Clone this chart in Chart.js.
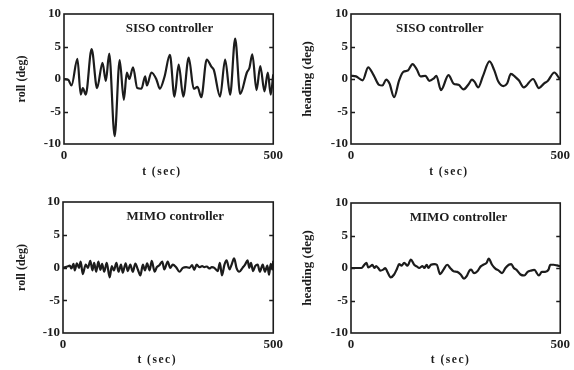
<!DOCTYPE html>
<html>
<head>
<meta charset="utf-8">
<script src="https://cdn.jsdelivr.net/npm/chart.js@4/dist/chart.umd.min.js"></script>
<style>
  html, body { margin: 0; padding: 0; background: #ffffff; }
  #wrap { position: relative; width: 574px; height: 370px; overflow: hidden; background: #ffffff; }
  .panel { position: absolute; width: 287px; height: 185px; }
  canvas { display: block; }
</style>
</head>
<body>
<div id="wrap">
  <div class="panel" style="left:0px;top:0px"><canvas id="rollSiso" width="287" height="185"></canvas></div>
  <div class="panel" style="left:287px;top:0px"><canvas id="headingSiso" width="287" height="185"></canvas></div>
  <div class="panel" style="left:0px;top:185px"><canvas id="rollMimo" width="287" height="185"></canvas></div>
  <div class="panel" style="left:287px;top:185px"><canvas id="headingMimo" width="287" height="185"></canvas></div>
</div>
<script>
// Roll and heading responses (deg) over a 500 s run, SISO vs MIMO controller.
const rollSisoT   = [0, 10, 18, 32, 40, 45, 52, 66, 79, 92, 100, 108, 121, 133, 143, 150, 156, 165, 175, 185, 194, 198, 209, 221, 229, 240, 253, 264, 274, 285, 298, 310, 319, 328, 341, 352, 358, 373, 385, 397, 409, 421, 437, 443, 450, 460, 469, 479, 487, 494, 500];
const rollSisoDeg = [0, -0.1, -1.0, 3.1, -2.4, -1.4, -2.4, 4.6, -1.4, 2.5, -0.3, 3.9, -8.8, 2.9, -3.2, 1.0, 0, 1.8, -1.4, -1.5, 0.4, -1.0, 1.0, -0.1, -1.5, 0.3, 3.7, -2.7, 2.2, -2.7, 3.3, -1.5, -1.2, -2.8, 3.0, 1.9, 1.4, -2.7, 3.0, -2.4, 6.2, -2.3, 1.0, 1.7, 3.8, -1.7, 2.0, -1.9, 1.0, -2.4, 0.7];

const headingSisoT   = [0, 12, 28, 41, 54, 67, 75, 84, 92, 103, 115, 125, 136, 147, 157, 166, 178, 187, 198, 204, 215, 233, 245, 257, 269, 281, 289, 295, 304, 315, 331, 342, 352, 364, 373, 382, 393, 401, 413, 435, 449, 461, 470, 486, 498, 500];
const headingSisoDeg = [0.5, 0.4, -0.2, 1.8, 0.6, -0.9, -1.0, -0.1, -0.7, -2.8, -0.2, 1.1, 1.3, 2.3, 1.5, 0.4, 0.5, -0.3, 0.1, 0.5, -1.7, 0.6, -0.7, -0.9, -1.6, -0.8, -0.1, -0.4, -1.3, 0.4, 2.7, 1.4, -0.4, -1.1, -0.7, 0.8, 0.3, -0.2, -1.3, 0.0, -1.4, -0.7, -0.3, 1.0, 0.1, 0.0];

const rollMimoT   = [0, 12, 16, 20, 25, 28, 33, 38, 42, 47, 54, 59, 65, 70, 74, 79, 84, 89, 93, 98, 104, 111, 116, 121, 127, 132, 138, 142, 149, 154, 160, 166, 172, 178, 184, 190, 195, 200, 206, 211, 218, 223, 229, 236, 241, 249, 255, 261, 269, 277, 285, 293, 301, 307, 312, 318, 324, 331, 336, 342, 348, 354, 360, 368, 373, 378, 384, 389, 396, 401, 407, 413, 419, 427, 433, 439, 443, 447, 452, 457, 463, 468, 475, 480, 486, 490, 494, 498, 500];
const rollMimoDeg = [-0.05, 0.2, 0.3, -0.15, 0.55, -0.45, 0.65, -0.05, 0.9, -1.0, 0.45, -0.05, 1.0, -0.45, 0.7, -0.65, 0.9, -0.35, 0.55, -0.65, 0.7, -1.5, 0.2, -0.45, 0.7, -0.65, 0.45, -0.8, 0.65, -0.55, 0.45, -0.65, 0.6, -0.3, -1.2, 0.45, -0.45, 0.65, -0.45, 1.0, -0.65, 0.05, 0.35, 0.9, -0.3, 0.9, -0.05, 0.45, 0.05, -0.65, -0.05, 0.05, -0.05, 0.35, -0.35, 0.45, 0.05, 0.2, 0.05, 0.15, -0.15, 0.05, -0.05, -0.55, 0.7, -1.2, 0.45, 1.1, -0.3, 0.45, 1.4, -0.15, -0.65, -0.05, 0.45, 1.1, -0.05, 0.7, -0.55, 0.2, 0.45, -0.65, 0.45, -0.65, 0.3, -1.1, 0.55, -0.3, 1.0];

const headingMimoT   = [0, 12, 25, 32, 37, 41, 46, 51, 56, 60, 65, 70, 77, 82, 87, 95, 103, 110, 115, 121, 127, 135, 143, 151, 157, 163, 171, 175, 181, 185, 191, 199, 205, 213, 221, 230, 237, 245, 254, 262, 270, 276, 283, 287, 294, 302, 310, 316, 324, 329, 337, 345, 353, 361, 369, 377, 383, 389, 395, 405, 414, 422, 430, 438, 449, 456, 464, 472, 476, 484, 492, 500];
const headingMimoDeg = [0, 0, 0, 0.5, 0.8, 0.1, 0.25, 0.5, 0, 0.3, 0, -0.4, -0.25, 0, -0.6, -1.45, -1.0, -0.1, 0.6, 0.35, 0.8, 0.35, 1.3, 0.5, 0.25, 0, 0.3, 0, 0.5, 0, 0.5, 0.6, 0.5, -0.95, -0.25, 0.5, 0, -0.5, -0.6, -1.0, -1.65, -1.3, -0.4, -0.25, -0.8, -0.5, 0.25, 0.5, 0.8, 1.45, 0.5, -0.1, -0.4, -0.8, 0, 0.5, 0.6, 0, -0.25, -1.0, -1.15, -0.6, -0.4, -0.3, -1.15, -0.6, -0.6, -0.25, 0.5, 0.5, 0.4, 0.25];

const yTickValues = [-10, -5, 0, 5, 10];
const xTickValues = [0, 500];
const innerTickValues = [-5, 0, 5];

const INK = '#1c1c1c';
const FONT = "'Liberation Serif', 'DejaVu Serif', serif";

// Box frame, inward tick marks on both sides, the controller caption inside
// the plot and the spaced-out time label under the axis.
const framePlugin = {
  id: 'frame',
  afterDatasetsDraw(chart, args, opts) {
    const { ctx, chartArea: a, scales: { x, y } } = chart;
    ctx.save();
    ctx.strokeStyle = INK;
    ctx.lineWidth = 1.6;
    ctx.strokeRect(a.left, a.top, a.right - a.left, a.bottom - a.top);
    ctx.lineWidth = 1.3;
    ctx.beginPath();
    for (const v of innerTickValues) {
      const py = Math.round(y.getPixelForValue(v)) + 0.5;
      ctx.moveTo(a.left, py); ctx.lineTo(a.left + 4, py);
      ctx.moveTo(a.right - 4, py); ctx.lineTo(a.right, py);
    }
    ctx.stroke();
    ctx.fillStyle = INK;
    ctx.textAlign = 'center';
    ctx.textBaseline = 'middle';
    ctx.font = "bold 13px " + FONT;
    ctx.fillText(opts.text, x.getPixelForValue(opts.atT), y.getPixelForValue(opts.atDeg));
    ctx.font = "bold 11.5px " + FONT;
    ctx.letterSpacing = '1.5px';
    ctx.fillText('t (sec)', x.getPixelForValue(opts.xTitleT), a.bottom + opts.xTitleGap);
    ctx.restore();
  }
};

function makePanel(id, times, values, cfg) {
  const points = times.map((t, i) => ({ x: t, y: values[i] }));
  return new Chart(document.getElementById(id), {
    type: 'line',
    data: {
      datasets: [{
        data: points,
        borderColor: INK,
        borderWidth: 2.2,
        pointRadius: 0,
        fill: false,
        tension: cfg.tension,
        cubicInterpolationMode: cfg.tension > 0 ? 'monotone' : 'default'
      }]
    },
    options: {
      responsive: false,
      animation: false,
      devicePixelRatio: 1,
      events: [],
      layout: { padding: { left: 0, top: cfg.top, right: 287 - cfg.right, bottom: 0 } },
      plugins: {
        legend: { display: false },
        tooltip: { enabled: false },
        frame: {
          text: cfg.caption, atT: cfg.captionT, atDeg: cfg.captionDeg,
          xTitleT: cfg.xTitleT, xTitleGap: cfg.xTitleGap
        }
      },
      scales: {
        x: {
          type: 'linear',
          min: 0, max: 500,
          afterBuildTicks: (s) => { s.ticks = xTickValues.map(v => ({ value: v })); },
          afterFit: (s) => { s.height = 185 - cfg.bottom; },
          grid: { display: false, drawTicks: false },
          border: { display: false },
          ticks: { color: INK, padding: 4, maxRotation: 0, font: { family: FONT, size: 13, weight: 'bold' } },
          title: { display: false }
        },
        y: {
          min: -10, max: 10,
          afterBuildTicks: (s) => { s.ticks = yTickValues.map(v => ({ value: v })); },
          afterFit: (s) => { s.width = cfg.left; },
          grid: { display: false, drawTicks: false },
          border: { display: false },
          ticks: { color: INK, padding: 3, font: { family: FONT, size: 13, weight: 'bold' } },
          title: { display: true, text: cfg.yTitle, color: INK, padding: { top: cfg.yTitlePad, bottom: 0 }, font: { family: FONT, size: cfg.yTitleSize, weight: 'bold' } }
        }
      }
    },
    plugins: [framePlugin]
  });
}

makePanel('rollSiso', rollSisoT, rollSisoDeg, {
  left: 64, top: 14, right: 274, bottom: 144, tension: 0.4,
  yTitle: 'roll (deg)', yTitleSize: 12, yTitlePad: 14.5, xTitleT: 234, xTitleGap: 28,
  caption: 'SISO controller', captionT: 252, captionDeg: 7.8
});
makePanel('headingSiso', headingSisoT, headingSisoDeg, {
  left: 64, top: 14, right: 274, bottom: 144, tension: 0.4,
  yTitle: 'heading (deg)', yTitleSize: 13, yTitlePad: 12.5, xTitleT: 234, xTitleGap: 28,
  caption: 'SISO controller', captionT: 212, captionDeg: 7.8
});
makePanel('rollMimo', rollMimoT, rollMimoDeg, {
  left: 63, top: 17, right: 274, bottom: 148, tension: 0.15,
  yTitle: 'roll (deg)', yTitleSize: 12, yTitlePad: 14.5, xTitleT: 224, xTitleGap: 27,
  caption: 'MIMO controller', captionT: 267, captionDeg: 7.7
});
makePanel('headingMimo', headingMimoT, headingMimoDeg, {
  left: 64, top: 18, right: 274, bottom: 148, tension: 0.15,
  yTitle: 'heading (deg)', yTitleSize: 13, yTitlePad: 12.5, xTitleT: 238, xTitleGap: 27,
  caption: 'MIMO controller', captionT: 257, captionDeg: 7.7
});
</script>
</body>
</html>
